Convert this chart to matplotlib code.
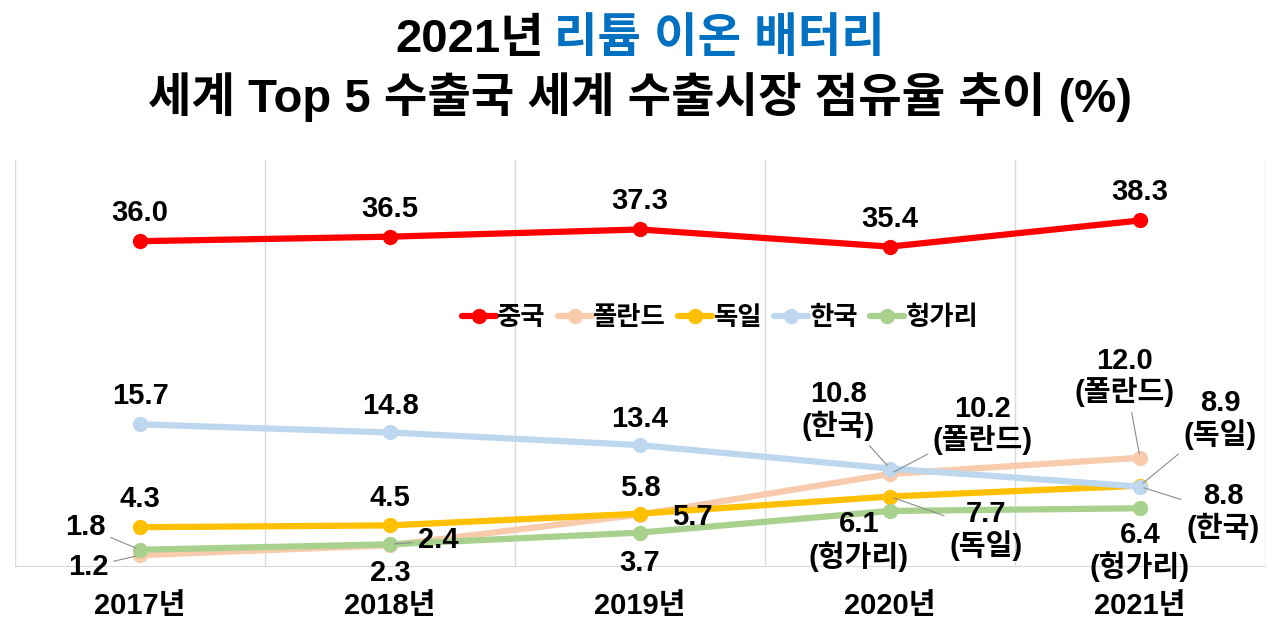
import matplotlib
matplotlib.use("Agg")
import matplotlib.pyplot as plt

plt.rcParams['font.family'] = ['Liberation Sans', 'Noto Sans CJK KR', 'DejaVu Sans']

years = ['2017년', '2018년', '2019년', '2020년', '2021년']
series_names = ['중국', '폴란드', '독일', '한국', '헝가리']
china = [36.0, 36.5, 37.3, 35.4, 38.3]
poland = [1.2, 2.3, 5.7, 10.2, 12.0]
germany = [4.3, 4.5, 5.8, 7.7, 8.9]
korea = [15.7, 14.8, 13.4, 10.8, 8.8]
hungary = [1.8, 2.4, 3.7, 6.1, 6.4]

colors = ['#FF0000', '#F8CBAD', '#FFC000', '#BDD7EE', '#A9D18E']
values = [china, poland, germany, korea, hungary]

# label offsets in pixels (dx, dy), whether leader line, whether to append name
label_style = {
    '중국': [((0, 28), False, False)] * 5,
    '폴란드': [((-52, -12), True, False), ((0, -28), False, False), ((52, -2), False, False),
             ((93, 49), True, True), ((-15, 81), True, True)],
    '독일': [((0, 28), False, False), ((0, 27), False, False), ((0, 26), False, False),
            ((96, -34), True, True), ((80, 66), True, True)],
    '한국': [((0, 28), False, False), ((0, 26), False, False), ((0, 26), False, False),
            ((-52, 58), True, True), ((83, -26), True, True)],
    '헝가리': [((-55, 23), True, False), ((48, 4), True, False), ((0, -30), False, False),
             ((-31, -30), False, True), ((0, -43), False, True)],
}

fig = plt.figure(figsize=(12.8, 6.18), dpi=100)
ax = fig.add_axes([15 / 1280, 52 / 618, 1250 / 1280, 406 / 618])

x = list(range(len(years)))
for name, vals, c in zip(series_names, values, colors):
    ax.plot(x, vals, color=c, lw=4.5, marker='o', ms=10, label=name,
            solid_capstyle='round', zorder=3)

for name, vals in zip(series_names, values):
    for i, v in enumerate(vals):
        (dx, dy), leader, named = label_style[name][i]
        txt = f"{v:.1f}" + (f"\n({name})" if named else "")
        arrow = dict(arrowstyle='-', color='#8C8C8C', lw=0.8,
                     shrinkA=2, shrinkB=3) if leader else None
        ax.annotate(txt, xy=(i, v), xytext=(dx, dy), textcoords='offset pixels',
                    ha='center', va='center', fontsize=21, fontweight='bold',
                    linespacing=1.1, arrowprops=arrow, zorder=5,
                    annotation_clip=False)

ax.set_xlim(-0.5, 4.5)
ax.set_ylim(0, 45)
ax.set_xticks(x)
ax.set_xticklabels(years, fontsize=21, fontweight='bold')
ax.tick_params(axis='x', length=0, pad=19)
ax.set_yticks([])
ax.set_xticks([-0.5, 0.5, 1.5, 2.5, 3.5, 4.5], minor=True)
ax.tick_params(axis='x', which='minor', length=0)
ax.grid(True, which='minor', axis='x', color='#D9D9D9', lw=1)
for s in ['top', 'left', 'right']:
    ax.spines[s].set_visible(False)
ax.spines['bottom'].set_color('#D9D9D9')

leg = ax.legend(loc='center', bbox_to_anchor=(720 / 1280, 1 - 318 / 618),
                bbox_transform=fig.transFigure, ncol=5, frameon=False,
                handlelength=1.3, handletextpad=0.05, columnspacing=0.45,
                prop=dict(size=19, weight='bold'))

# Title
renderer = fig.canvas.get_renderer()
tsize = 34
t1 = fig.text(0, 1 - 40 / 618, '2021년', fontsize=tsize, fontweight='bold',
              ha='left', va='center', color='black')
t2 = fig.text(0, 1 - 40 / 618, '리튬 이온 배터리', fontsize=tsize, fontweight='bold',
              ha='left', va='center', color='#0070C0')
w1 = t1.get_window_extent(renderer).width
w2 = t2.get_window_extent(renderer).width
gap = tsize * 0.3
total = w1 + gap + w2
x0 = (1280 - total) / 2
t1.set_x(x0 / 1280)
t2.set_x((x0 + w1 + gap) / 1280)
fig.text(0.5, 1 - 97 / 618, '세계 Top 5 수출국 세계 수출시장 점유율 추이 (%)',
         fontsize=tsize, fontweight='bold', ha='center', va='center')

fig.savefig('out.png', dpi=100, facecolor='white')
